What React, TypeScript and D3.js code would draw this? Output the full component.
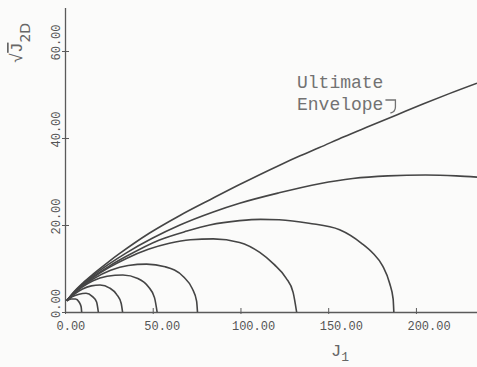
import React, { useRef, useEffect } from 'react';
import * as d3 from "d3";

const width = 477;
const height = 367;

// [J1, sqrt(J2D)]
const xTicks = [0, 50, 100, 150, 200];
const yTicks = [0, 20, 40, 60];

const envelope = [[1, 2.6], [5, 4.6], [10, 6.6], [16, 8.7], [25, 11.6], [31, 13.4], [48, 18.1], [65.5, 22.2], [84.5, 26.2], [99.5, 29.3], [122, 33.7], [134, 35.9], [145, 37.8], [159, 40.3], [174, 42.8], [189, 45.3], [204, 47.8], [219, 50.2], [234.8, 52.6]];
const cap31 = [[1, 2.6], [5, 4.5], [10, 6.4], [16, 8.4], [25, 11], [35, 13.6], [50, 17], [65.5, 20], [84.5, 23], [99.5, 25], [122, 27.4], [145, 29.5], [164, 30.7], [184, 31.3], [205.5, 31.5], [223, 31.3], [234.8, 31]];
const cap21 = [[1, 2.6], [5, 4.4], [10, 6.2], [16, 8.1], [25, 10.5], [35, 12.8], [53.5, 16.5], [69.5, 18.6], [82.5, 20], [99.5, 21], [111.5, 21.3], [122, 21.2], [139, 20.4], [156.5, 18.9], [169, 15.8], [175.5, 13.5], [181, 10.6], [185, 6.6], [187, 3], [187.4, 0]];
const cap17 = [[1, 2.6], [5, 4.4], [10, 6.1], [16, 7.9], [25, 10.2], [35, 12.3], [47.5, 14.4], [59.5, 15.8], [71.5, 16.6], [84.5, 16.8], [99.5, 16], [111, 13.7], [119, 11], [126, 7.8], [130, 4.5], [132, 0]];
const cap11 = [[1, 2.6], [5, 4.3], [10, 6], [16, 7.6], [26, 9.6], [36, 10.7], [46.5, 11], [57, 10.4], [67.5, 8.1], [72.5, 5.4], [75, 2.5], [75.5, 0]];
const cap8 = [[1, 2.6], [5, 4.2], [10, 5.8], [16, 7.2], [24, 8.2], [33, 8.5], [41.5, 7.7], [47.5, 5.8], [51, 3.3], [52.5, 0]];
const cap6 = [[1, 2.6], [5, 4], [10, 5.3], [15, 6], [20, 6.2], [25.5, 5.5], [29.5, 4], [32, 2], [32.8, 0]];
const cap4 = [[1, 2.6], [4, 3.5], [8, 4.1], [12, 4.3], [15.5, 3.6], [18, 2.3], [19, 0]];
const cap3 = [[1, 2.6], [3.5, 3], [6, 3], [8, 2.3], [9.2, 1.2], [9.5, 0]];

const curves = [envelope, cap31, cap21, cap17, cap11, cap8, cap6, cap4, cap3];

const ink = "#454545";
const axisInk = "#5a5a5a";
const mono = "'Liberation Mono', 'DejaVu Sans Mono', monospace";

export default function App() {
    const d3Container = useRef<SVGSVGElement>(null);

    useEffect(() => {
        if (!d3Container.current) return;
        const svg = d3.select(d3Container.current);
        svg.selectAll("*").remove();

        let x = d3.scaleLinear().domain([0, 234.8]).range([65, 477]);
        let y = d3.scaleLinear().domain([0, 70]).range([312, 7.5]);

        svg.append("rect")
            .attr("width", width)
            .attr("height", height)
            .attr("fill", "#fbfbfa");

        let xAxis = g => g
            .attr("transform", `translate(0,${y(0)})`)
            .call(d3.axisBottom(x).tickValues(xTicks).tickSize(0).tickSizeOuter(0).tickFormat(d3.format(".2f")))
            .attr("font-family", mono)
            .attr("font-size", 12)
            .call(g => g.select(".domain").attr("stroke", axisInk).attr("stroke-width", 1.3))
            .call(g => g.selectAll(".tick line").attr("y1", -4).attr("y2", 2).attr("stroke", axisInk))
            .call(g => g.selectAll(".tick text")
                .attr("x", -9)
                .attr("y", 18)
                .attr("dy", null)
                .attr("text-anchor", "start")
                .attr("fill", "#555"));

        let yAxis = g => g
            .attr("transform", `translate(${x(0)},0)`)
            .call(d3.axisLeft(y).tickValues(yTicks).tickSize(0).tickSizeOuter(0).tickFormat(d3.format(".2f")))
            .attr("font-family", mono)
            .attr("font-size", 12)
            .call(g => g.select(".domain").attr("stroke", axisInk).attr("stroke-width", 1.3))
            .call(g => g.selectAll(".tick line").attr("x1", -3).attr("x2", 4).attr("stroke", axisInk))
            .call(g => g.selectAll(".tick text")
                .attr("x", 0)
                .attr("y", 0)
                .attr("dy", null)
                .attr("transform", "translate(-5,-9) rotate(-90)")
                .attr("text-anchor", "middle")
                .attr("fill", "#555"));

        svg.append("g").call(xAxis);
        svg.append("g").call(yAxis);

        let line = d3.line()
            .x(d => x(d[0]))
            .y(d => y(d[1]))
            .curve(d3.curveMonotoneX);

        svg.append("g")
            .selectAll("path")
            .data(curves)
            .join("path")
            .attr("fill", "none")
            .attr("stroke", ink)
            .attr("stroke-width", 1.6)
            .attr("stroke-linejoin", "round")
            .attr("d", line);

        // annotation
        const note = svg.append("g")
            .attr("font-family", mono)
            .attr("font-size", 18)
            .attr("fill", "#727272");
        note.append("text").attr("x", 297).attr("y", 88).text("Ultimate");
        const env = note.append("text").attr("x", 297).attr("y", 110).text("Envelope");
        const ex = 297 + (env.node() as SVGTextElement).getComputedTextLength() + 2;
        note.append("path")
            .attr("fill", "none")
            .attr("stroke", "#727272")
            .attr("stroke-width", 1.3)
            .attr("d", `M${ex},100 h10 v7 q0,5 -5,6`);

        // axis titles
        const yl = svg.append("text")
            .attr("transform", "translate(22,63) rotate(-90)")
            .attr("font-family", mono)
            .attr("font-size", 17)
            .attr("fill", "#666");
        yl.append("tspan").text("√");
        yl.append("tspan").attr("text-decoration", "overline").text("J");
        yl.append("tspan").attr("dy", 8).attr("font-size", 14).attr("font-family", "'DejaVu Sans', sans-serif").text("2D");

        const xl = svg.append("text")
            .attr("x", 331)
            .attr("y", 356)
            .attr("font-family", mono)
            .attr("font-size", 17)
            .attr("fill", "#666");
        xl.append("tspan").text("J");
        xl.append("tspan").attr("dy", 5).attr("font-size", 13).text("1");
    }, []);

    return (
        <svg ref={d3Container} width={width} height={height}
            style={{ position: "absolute", left: 0, top: 0, display: "block" }} />
    );
}
